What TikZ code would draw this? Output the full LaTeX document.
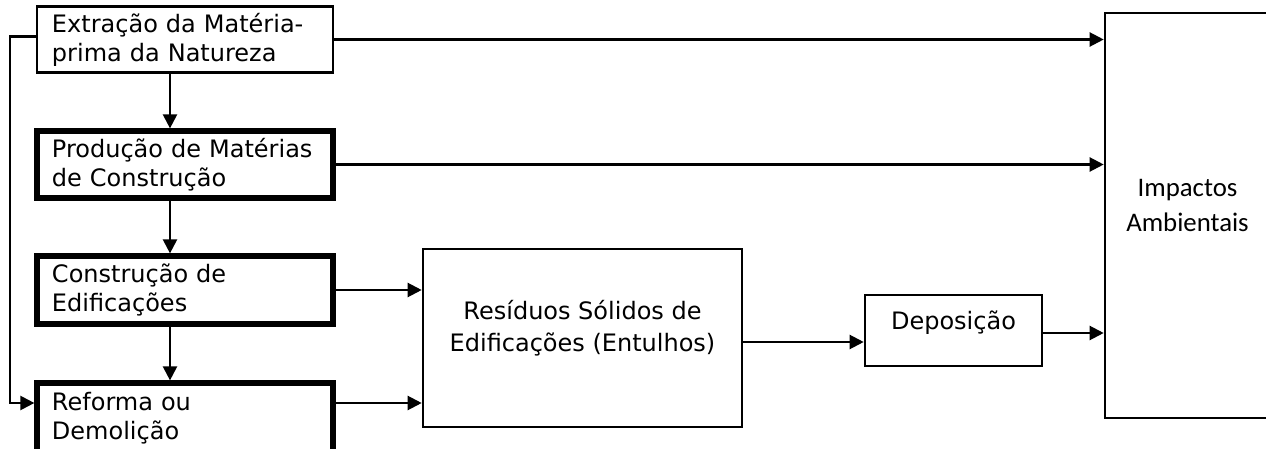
\documentclass[tikz,border=0pt]{standalone}
\usepackage{fontspec}
\setmainfont{DejaVu Sans}
\newfontfamily\calibri{Carlito}
\usetikzlibrary{arrows.meta}

\begin{document}
\begin{tikzpicture}[x=0.5pt, y=-0.5pt,
    etapa/.style={draw, line width=1.3pt, minimum width=148pt, text width=133pt,
        inner xsep=7.5pt, align=left, font=\fontsize{12}{14.5}\selectfont},
    etapa forte/.style={etapa, line width=2.6pt},
    caixa/.style={draw, line width=1.3pt},
    texto/.style={align=center, font=\fontsize{12}{16}\selectfont},
    seta/.style={-{Triangle[length=7pt,width=7pt]}, line width=1.1pt}]
\useasboundingbox (0,0) rectangle (1266,449);
\clip (0,0) rectangle (1266,449);
% etapas, de cima para baixo
\node[etapa, minimum height=31.5pt] (extr) at (185,39.5) {Extração da Matéria-\\prima da Natureza};
\node[etapa forte, minimum height=33.5pt] (prod) at (185,164.5) {Produção de Matérias\\de Construção};
\node[etapa forte, minimum height=34pt] (constr) at (185,290) {Construção de\\Edificações};
\node[etapa forte, minimum height=35pt] (reform) at (185,418) {Reforma ou\\Demolição};
% residuos, deposicao e impactos
\node[caixa, minimum width=159.5pt, minimum height=89pt,
    label={[texto, yshift=5pt]center:Resíduos Sólidos de\\Edificações (Entulhos)}] (resid) at (582.5,338) {};
\node[caixa, minimum width=88.5pt, minimum height=35.5pt,
    label={[texto, yshift=4pt]center:Deposição}] (depos) at (953.5,330.5) {};
\node[caixa, minimum width=82.5pt, minimum height=202.5pt,
    label={[texto, yshift=5pt, font=\calibri\fontsize{13.4}{17.5}\selectfont]center:Impactos\\Ambientais}] (imp) at (1187.5,215.5) {};
% setas
\foreach \a/\b in {extr/prod, prod/constr, constr/reform}
    \draw[seta] ([xshift=-7.5pt]\a.south) -- ([xshift=-7.5pt]\b.north);
\draw[seta] (extr.east) -- (extr.east -| imp.west);
\draw[seta] (prod.east) -- (prod.east -| imp.west);
\draw[seta] (constr.east) -- (constr.east -| resid.west);
\draw[seta] ([yshift=7.5pt]reform.east) -- ([yshift=7.5pt]reform.east -| resid.west);
\draw[seta] ([yshift=-2pt]resid.east) -- ([yshift=-2pt]resid.east -| depos.west);
\draw[seta] ([yshift=-1.25pt]depos.east) -- ([yshift=-1.25pt]depos.east -| imp.west);
\draw[seta] ([yshift=1.5pt]extr.west) -- ++(-26,0) |- ([yshift=7.5pt]reform.west);
\end{tikzpicture}
\end{document}
